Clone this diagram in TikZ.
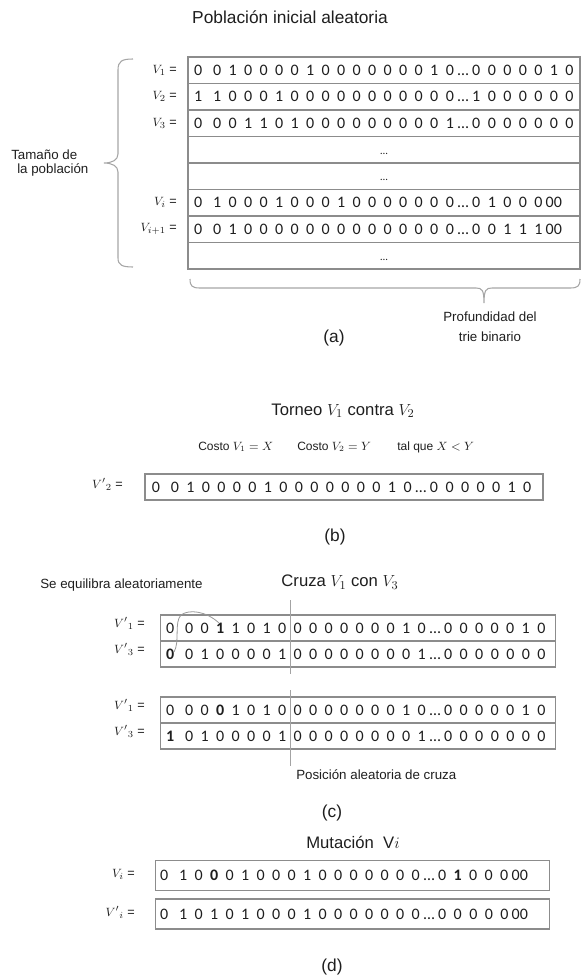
\documentclass[tikz,border=0pt]{standalone}
\usepackage{fontspec}
\setmainfont{Liberation Sans}
\newfontfamily\digitfont{Carlito}
\definecolor{ink}{HTML}{1E1E1E}
\definecolor{framegray}{HTML}{8C8C8C}
\definecolor{bracegray}{HTML}{A6A6A6}
\newlength\px \setlength\px{0.75pt}
\newlength\bp \setlength\bp{15.5\px}
% a string of bits: each digit in a fixed slot, "." = ellipsis, "+" = wider first gap
\newcommand\B[1]{\textbf{#1}}
\def\bitsA#1{\ifx\relax#1\else\bitsB{#1}\expandafter\bitsA\fi}
\def\bitsB#1{\ifx.#1\makebox[11\px][c]{…}\else\ifx+#1\hspace{3.5\px}\else\makebox[\bp][c]{#1}\fi\fi}
\newcommand\bits[1]{{\digitfont\fontsize{12}{14}\selectfont\bitsA#1\relax}}
\begin{document}
\begin{tikzpicture}[x=0.75pt,y=-0.75pt,
  every node/.style={inner sep=0pt, text=ink},
  head/.style={font=\fontsize{13}{15}\selectfont},
  sub/.style={font=\fontsize{12.5}{15}\selectfont},
  note/.style={font=\fontsize{10}{12}\selectfont},
  cost/.style={font=\fontsize{9}{11}\selectfont, anchor=west},
  lbl/.style={font=\fontsize{9.5}{11}\selectfont, anchor=east},
  bitrow/.style={anchor=west},
  cell/.style={draw=framegray, line width=0.9pt, rectangle},
  bracel/.style={draw=bracegray, line width=0.8pt},
  cutline/.style={draw=framegray!80, line width=0.7pt}]
\useasboundingbox (0,0) rectangle (581,978);

% ---------------- (a) random initial population ----------------
\node[head] (ta) at (290,17) {Población inicial aleatoria};
\foreach \i/\y in {1/70.25,2/96.75,3/123.25,4/149.75,5/176.25,6/202.75,7/229.25,8/255.75}
  \node[cell, minimum width=392\px, minimum height=26.5\px] (a\i) at (384,\y) {};
\node[lbl] (la1) at (177,70.25) {\(V_1\) =};
\node[lbl] (la2) at (177,96.75) {\(V_2\) =};
\node[lbl] (la3) at (177,123.25) {\(V_3\) =};
\node[lbl] (la6) at (177,202.75) {\(V_i\) =};
\node[lbl] (la7) at (177,229.25) {\(V_{i+1}\) =};
\node[bitrow] (ba1) at (190.25,70.25) {\bits{0+0 1 0 0 0 0 1 0 0 0 0 0 0 0 1 0 . 0 0 0 0 0 1 0}};
\node[bitrow] (ba2) at (190.25,96.75) {\bits{1+1 0 0 0 1 0 0 0 0 0 0 0 0 0 0 0 . 1 0 0 0 0 0 0}};
\node[bitrow] (ba3) at (190.25,123.25) {\bits{0+0 0 1 1 0 1 0 0 0 0 0 0 0 0 0 1 . 0 0 0 0 0 0 0}};
\node[bitrow] (ba6) at (190.25,202.75) {\bits{0+1 0 0 0 1 0 0 0 1 0 0 0 0 0 0 0 . 0 1 0 0 0 {00}}};
\node[bitrow] (ba7) at (190.25,229.25) {\bits{0+0 1 0 0 0 0 0 0 0 0 0 0 0 0 0 0 . 0 0 1 1 1 {00}}};
\foreach \i in {4,5,8}
  \node[font=\digitfont\fontsize{8}{9}\selectfont] (da\i) at ([yshift=-4\px]a\i.center) {…};
% population size brace
\draw[bracel] (133,59) .. controls (122,59) and (118,61) .. (118,70) -- (118,154)
  .. controls (118,160) and (112,163) .. (104,163)
  .. controls (112,163) and (118,166) .. (118,172) -- (118,258)
  .. controls (118,265) and (122,267) .. (133,267);
\node[note, anchor=west] (tam1) at (11,155) {Tamaño de};
\node[note, anchor=west] (tam2) at (17,170) {la población};
% trie depth brace
\draw[bracel] (190,279) .. controls (190,286) and (192,288) .. (200,288) -- (476,288)
  .. controls (482,288) and (484,290) .. (484,303)
  .. controls (484,290) and (486,288) .. (492,288) -- (570,288)
  .. controls (578,288) and (580,286) .. (580,279);
\node[note] (prof1) at (490,317) {Profundidad del};
\node[note] (prof2) at (490,337) {trie binario};
\node[head] (capa) at (334,338) {(a)};

% ---------------- (b) tournament ----------------
\node[sub] (tb) at (343,411) {Torneo \(V_1\) contra \(V_2\)};
\node[cost] (c1) at (198,447) {Costo \(V_1 = X\)};
\node[cost] (c2) at (297,447) {Costo \(V_2 = Y\)};
\node[cost] (c3) at (397,447) {tal que \(X < Y\)};
\node[cell, minimum width=398\px, minimum height=26\px] (b1) at (344,487) {};
\node[lbl] (lb1) at (123,484) {\(V'{}_2\) =};
\node[bitrow] (bb1) at (148,487) {\bits{0+0 1 0 0 0 0 1 0 0 0 0 0 0 0 1 0 . 0 0 0 0 0 1 0}};
\node[head] (capb) at (335,537) {(b)};

% ---------------- (c) crossover ----------------
\node[note, anchor=west] (equi) at (40,585) {Se equilibra aleatoriamente};
\node[sub] (tc) at (340,582) {Cruza \(V_1\) con \(V_3\)};
\node[cell, minimum width=395\px, minimum height=26\px] (c1a) at (358,628) {};
\node[cell, minimum width=395\px, minimum height=26\px] (c1b) at (358,654) {};
\node[cell, minimum width=395\px, minimum height=26\px] (c2a) at (358,710) {};
\node[cell, minimum width=395\px, minimum height=26\px] (c2b) at (358,736) {};
\node[lbl] (lc1a) at (145,623) {\(V'{}_1\) =};
\node[lbl] (lc1b) at (145,649) {\(V'{}_3\) =};
\node[lbl] (lc2a) at (145,705) {\(V'{}_1\) =};
\node[lbl] (lc2b) at (145,731) {\(V'{}_3\) =};
\node[bitrow] (bc1a) at (162.25,628) {\bits{0+0 0 {\B1} 1 0 1 0 0 0 0 0 0 0 0 1 0 . 0 0 0 0 0 1 0}};
\node[bitrow] (bc1b) at (162.25,654) {\bits{{\B0}+0 1 0 0 0 0 1 0 0 0 0 0 0 0 0 1 . 0 0 0 0 0 0 0}};
\node[bitrow] (bc2a) at (162.25,710) {\bits{0+0 0 {\B0} 1 0 1 0 0 0 0 0 0 0 0 1 0 . 0 0 0 0 0 1 0}};
\node[bitrow] (bc2b) at (162.25,736) {\bits{{\B1}+0 1 0 0 0 0 1 0 0 0 0 0 0 0 0 1 . 0 0 0 0 0 0 0}};
% random cut position
\coordinate (cutA) at (290,600);
\coordinate (cutB) at (290,674);
\coordinate (cutC) at (290,690);
\coordinate (cutD) at (290,766);
\draw[cutline] (cutA) -- (cutB);
\draw[cutline] (cutC) -- (cutD);
% balancing stroke between the swapped bits
\coordinate (sw1) at (219,623);
\coordinate (sw2) at (174,652);
\draw[draw=framegray!90, line width=0.6pt] (sw1) .. controls (206,611) and (189,609) .. (181,615)
  .. controls (174,622) and (180,642) .. (sw2);
\node[note, anchor=west] (pos) at (296,775) {Posición aleatoria de cruza};
\node[head] (capc) at (332,813) {(c)};

% ---------------- (d) mutation ----------------
\node[sub] (td) at (353,842) {Mutación \ \textrm{V}\(i\)};
\node[cell, minimum width=394\px, minimum height=30\px] (d1) at (352.4,875.7) {};
\node[cell, minimum width=394\px, minimum height=30\px] (d2) at (352.4,914) {};
\node[lbl] (ld1) at (135,874) {\(V_i\) =};
\node[lbl] (ld2) at (135,912) {\(V'{}_i\) =};
\node[bitrow] (bd1) at (156.25,875.7) {\bits{0+1 0 {\B0} 0 1 0 0 0 1 0 0 0 0 0 0 0 . 0 {\B1} 0 0 0 {00}}};
\node[bitrow] (bd2) at (156.25,914) {\bits{0+1 0 1 0 1 0 0 0 1 0 0 0 0 0 0 0 . 0 0 0 0 0 {00}}};
\node[head] (capd) at (332,967) {(d)};
\end{tikzpicture}
\end{document}
